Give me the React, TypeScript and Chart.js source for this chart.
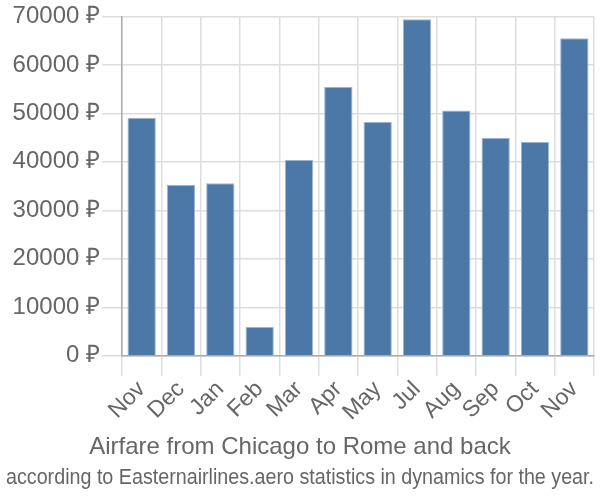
import React, { useEffect, useRef } from "react";
import { Chart, registerables } from "chart.js";

Chart.register(...registerables);

const months = ["Nov", "Dec", "Jan", "Feb", "Mar", "Apr", "May", "Jul", "Aug", "Sep", "Oct", "Nov"];
const prices = [49100, 35300, 35600, 5950, 40400, 55500, 48200, 69400, 50600, 44900, 44100, 65500];
const yTicks = [0, 10000, 20000, 30000, 40000, 50000, 60000, 70000];
const titleText = "Airfare from Chicago to Rome and back";
const subtitleText = "according to Easternairlines.aero statistics in dynamics for the year.";

export default function App() {
  const ref = useRef<HTMLCanvasElement>(null);
  useEffect(() => {
    document.body.style.margin = "0";
    const ctx = ref.current!;
    const font = "'Liberation Sans', Arial, sans-serif";
    const chart = new Chart(ctx, {
      type: "bar",
      data: {
        labels: months,
        datasets: [
          {
            data: prices,
            backgroundColor: "#4c78a8",
            borderColor: "#9db5d2",
            borderWidth: 1,
          },
        ],
      },
      options: {
        animation: false,
        responsive: false,
        layout: { padding: { left: 6, right: 6, top: 0, bottom: 9 } },
        plugins: {
          legend: { display: false },
          tooltip: { enabled: false },
          title: {
            display: true,
            text: titleText,
            position: "bottom",
            weight: 100,
            color: "#666",
            font: { family: font, size: 24, weight: "normal" },
            padding: { top: 7, bottom: 3 },
          } as any,
          subtitle: {
            display: true,
            text: subtitleText,
            position: "bottom",
            weight: 200,
            color: "#666",
            font: { family: font, size: 21.8, weight: "normal" },
            padding: { top: 0, bottom: 0 },
          } as any,
        },
        scales: {
          x: {
            offset: true,
            grid: { offset: true, color: "#dddddd", lineWidth: 1.5, tickLength: 20 },
            border: { color: "#aaaaaa", width: 1.5 },
            ticks: {
              color: "#666",
              font: { family: font, size: 23 },
              minRotation: 45,
              maxRotation: 45,
              autoSkip: false,
              padding: 0,
            },
          },
          y: {
            min: 0,
            max: 70000,
            afterBuildTicks: (axis: any) => {
              axis.ticks = yTicks.map((v) => ({ value: v }));
            },
            afterFit: (axis: any) => {
              axis.width = 116;
            },
            grid: { color: "#dddddd", lineWidth: 1.5, tickLength: 20 },
            border: { color: "#aaaaaa", width: 1.5 },
            ticks: {
              color: "#666",
              font: { family: font, size: 24 },
              padding: 2,
              callback: (v: any) => v + " ₽",
            },
          },
        },
      },
    });
    return () => chart.destroy();
  }, []);
  return <canvas ref={ref} width={600} height={500} style={{ display: "block" }} />;
}
